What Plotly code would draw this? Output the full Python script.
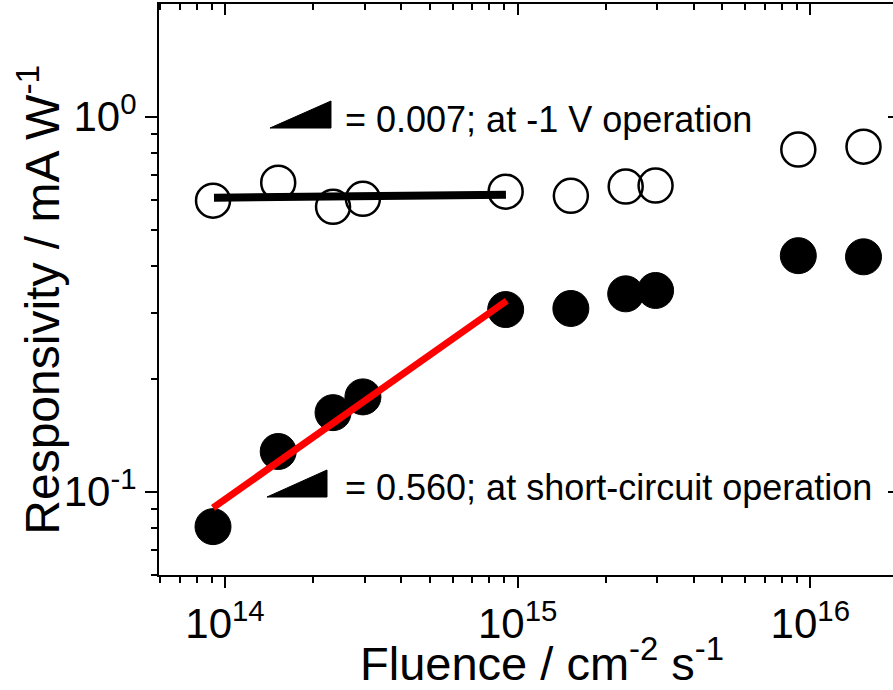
import plotly.graph_objects as go

# ---- data ----
fluence = [9.1e13, 1.52e14, 2.34e14, 2.96e14, 9.1e14, 1.52e15, 2.34e15, 2.96e15, 9.1e15, 1.52e16]
resp_minus1V = [0.597, 0.667, 0.575, 0.604, 0.631, 0.615, 0.651, 0.655, 0.817, 0.832]
resp_short = [0.0807, 0.128, 0.1625, 0.179, 0.306, 0.308, 0.337, 0.344, 0.426, 0.423]

fit_minus1V_x = [9.17e13, 9.12e14]
fit_minus1V_y = [0.608, 0.619]
fit_short_x = [9.1e13, 9.18e14]
fit_short_y = [0.0906, 0.323]

x_tickvals = [1e14, 1e15, 1e16]
x_ticktext = ["10<sup>14</sup>", "10<sup>15</sup>", "10<sup>16</sup>"]
y_tickvals = [0.1, 1]
y_ticktext = ["10<sup>-1</sup>", "10<sup>0</sup>"]

x_title = "Fluence / cm<sup>-2</sup> s<sup>-1</sup>"
y_title = "Responsivity / mA W<sup>-1</sup>"
label_top = "= 0.007; at -1 V operation"
label_bottom = "= 0.560; at short-circuit operation"

FONT = "Liberation Sans, Arial, sans-serif"
XR = [13.7745, 16.2826]
YR = [-1.2221, 0.3005]

fig = go.Figure()
fig.add_trace(go.Scatter(x=fluence, y=resp_minus1V, mode="markers",
                         marker=dict(symbol="circle-open", size=34, color="black",
                                     line=dict(width=2.5, color="black")),
                         showlegend=False))
fig.add_trace(go.Scatter(x=fluence, y=resp_short, mode="markers",
                         marker=dict(symbol="circle", size=36, color="black",
                                     line=dict(width=1, color="black")),
                         showlegend=False))
fig.add_trace(go.Scatter(x=fit_minus1V_x, y=fit_minus1V_y, mode="lines",
                         line=dict(color="black", width=8), showlegend=False))
fig.add_trace(go.Scatter(x=fit_short_x, y=fit_short_y, mode="lines",
                         line=dict(color="#FF0000", width=7), showlegend=False))
# helper trace for top/right mirror axes
fig.add_trace(go.Scatter(x=[None], y=[None], xaxis="x2", yaxis="y2",
                         mode="markers", showlegend=False, hoverinfo="skip"))

axis_common = dict(type="log", showgrid=False, zeroline=False)

fig.update_layout(
    width=893, height=690,
    margin=dict(l=159, r=0, t=4, b=115),
    paper_bgcolor="white", plot_bgcolor="white",
    font=dict(family=FONT, color="black"),
    xaxis=dict(**axis_common, range=XR, tickmode="array", tickvals=x_tickvals,
               ticktext=x_ticktext, ticks="outside", ticklen=11, tickwidth=2,
               tickcolor="black", showline=True, linewidth=2, linecolor="black",
               tickfont=dict(size=42, family=FONT),
               minor=dict(dtick="D1", ticks="outside", ticklen=6, tickwidth=2,
                          tickcolor="black", showgrid=False),
               automargin=False),
    yaxis=dict(**axis_common, range=YR, tickmode="array", tickvals=y_tickvals,
               ticktext=y_ticktext, ticks="outside", ticklen=12, tickwidth=2,
               tickcolor="black", showline=True, linewidth=2, linecolor="black",
               tickfont=dict(size=42, family=FONT),
               minor=dict(dtick="D1", ticks="outside", ticklen=6, tickwidth=2,
                          tickcolor="black", showgrid=False),
               automargin=False),
    xaxis2=dict(**axis_common, range=XR, overlaying="x", side="top", anchor="y2",
                tickmode="array", tickvals=x_tickvals, showticklabels=False,
                ticks="inside", ticklen=11, tickwidth=2, tickcolor="black",
                showline=True, linewidth=2, linecolor="black",
                minor=dict(dtick="D1", ticks="inside", ticklen=6, tickwidth=2,
                           tickcolor="black", showgrid=False)),
    yaxis2=dict(**axis_common, range=YR, overlaying="y", side="right", anchor="x2",
                tickmode="array", tickvals=y_tickvals, showticklabels=False,
                ticks="inside", ticklen=5, tickwidth=2, tickcolor="black",
                showline=False),
)

# axis titles as text annotations (paper coords)
fig.add_annotation(x=0.271, y=-0.1489, xref="paper", yref="paper", text=x_title,
                   showarrow=False, xanchor="left", yanchor="middle",
                   font=dict(size=47, family=FONT, color="black"))
fig.add_annotation(x=-0.1632, y=0.4825, xref="paper", yref="paper", text=y_title,
                   showarrow=False, xanchor="center", yanchor="middle", textangle=-90,
                   font=dict(size=48, family=FONT, color="black"))

# slope-triangle glyphs
fig.add_shape(type="path", xref="paper", yref="paper",
              path="M 0.1512 0.7828 L 0.2343 0.8301 L 0.2343 0.7828 Z",
              fillcolor="black", line=dict(color="black", width=1))
fig.add_shape(type="path", xref="paper", yref="paper",
              path="M 0.1471 0.1366 L 0.2289 0.1839 L 0.2289 0.1366 Z",
              fillcolor="black", line=dict(color="black", width=1))

fig.add_annotation(x=14.403, y=-0.0067, xref="x", yref="y", text=label_top,
                   showarrow=False, xanchor="left", yanchor="middle",
                   font=dict(size=36, family=FONT, color="black"))
fig.add_annotation(x=14.403, y=-0.990, xref="x", yref="y", text=label_bottom,
                   showarrow=False, xanchor="left", yanchor="middle",
                   font=dict(size=36, family=FONT, color="black"))

fig.write_html("out.html")
